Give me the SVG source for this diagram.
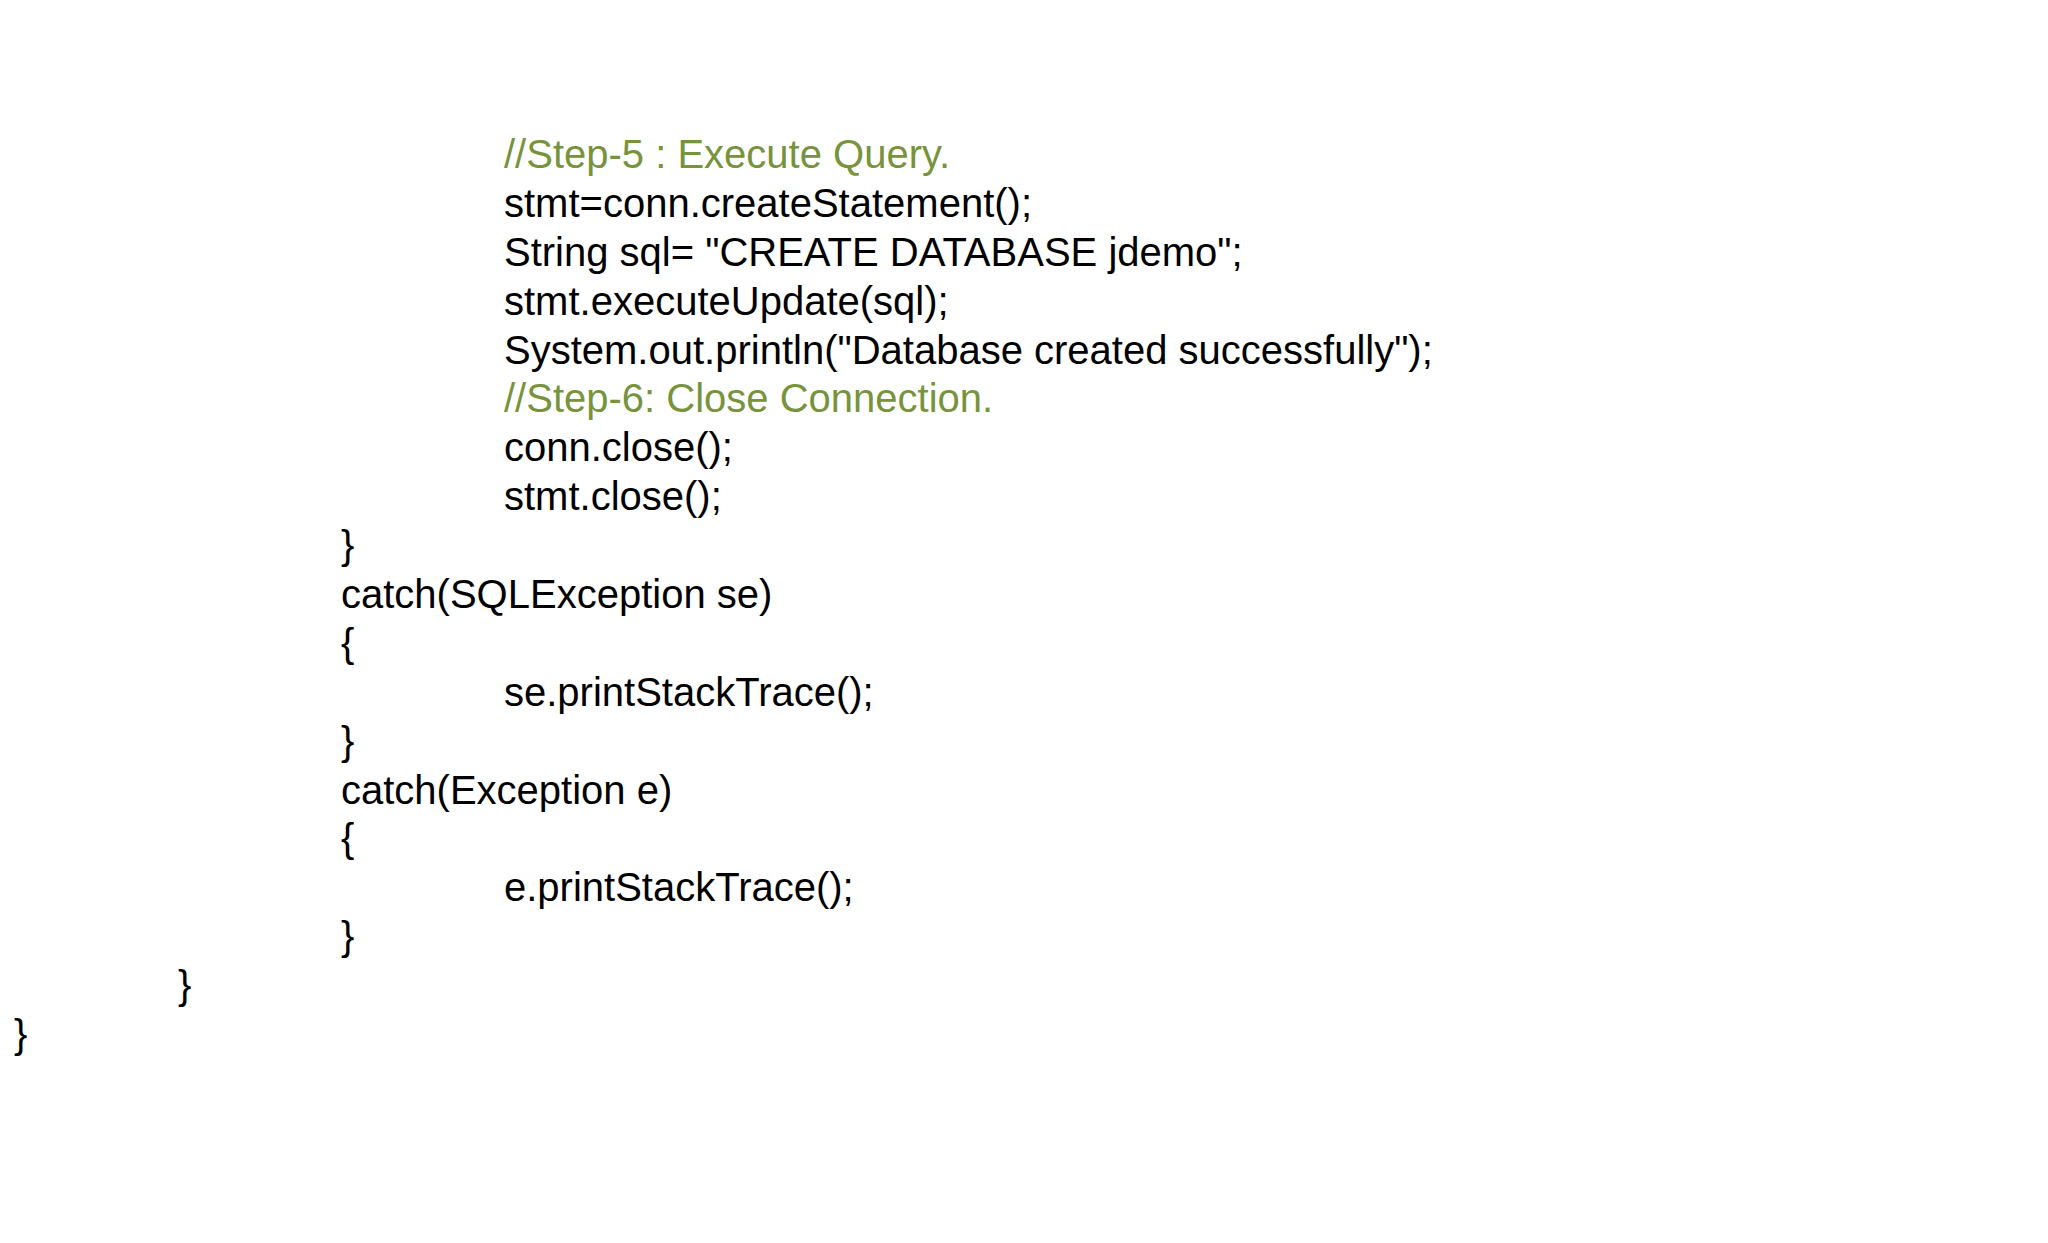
<svg xmlns="http://www.w3.org/2000/svg" width="2048" height="1243" viewBox="0 0 2048 1243">
<style>
text{font-family:"Liberation Sans",Arial,sans-serif;font-size:40px;fill:#000}
.c{fill:#77933C}
</style>
<rect width="2048" height="1243" fill="#fff"/>
<g id="code">
<text x="504" y="168" class="c">//Step-5 : Execute Query.</text>
<text x="504" y="217">stmt=conn.createStatement();</text>
<text x="504" y="266">String sql= "CREATE DATABASE jdemo";</text>
<text x="504" y="315">stmt.executeUpdate(sql);</text>
<text x="504" y="364">System.out.println("Database created successfully");</text>
<text x="504" y="412" class="c">//Step-6: Close Connection.</text>
<text x="504" y="461">conn.close();</text>
<text x="504" y="510">stmt.close();</text>
<text x="341" y="559">}</text>
<text x="341" y="608">catch(SQLException se)</text>
<text x="341" y="657">{</text>
<text x="504" y="706">se.printStackTrace();</text>
<text x="341" y="755">}</text>
<text x="341" y="804">catch(Exception e)</text>
<text x="341" y="852">{</text>
<text x="504" y="901">e.printStackTrace();</text>
<text x="341" y="950">}</text>
<text x="178" y="999">}</text>
<text x="14" y="1048">}</text>
</g>
</svg>
